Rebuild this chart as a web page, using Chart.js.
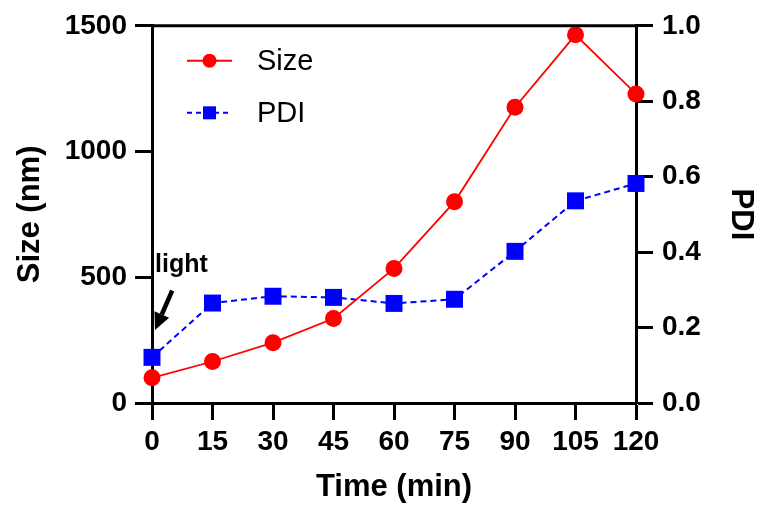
<!DOCTYPE html>
<html>
<head>
<meta charset="utf-8">
<script src="https://cdn.jsdelivr.net/npm/chart.js@4/dist/chart.umd.min.js"></script>
<style>
  html, body { margin: 0; padding: 0; background: #fff; }
  #wrap { width: 760px; height: 513px; }
</style>
</head>
<body>
<div id="wrap"><canvas id="c" width="760" height="513"></canvas></div>
<script>
const timeMin = [0, 15, 30, 45, 60, 75, 90, 105, 120];
const sizeNm = [100, 165, 240, 336, 535, 800, 1176, 1464, 1229];
const pdi = [0.121, 0.265, 0.283, 0.280, 0.264, 0.275, 0.402, 0.536, 0.582];
const xTicks = [0, 15, 30, 45, 60, 75, 90, 105, 120];
const sizeTicks = [0, 500, 1000, 1500];
const pdiTicks = [0.0, 0.2, 0.4, 0.6, 0.8, 1.0];
const seriesNames = ['Size', 'PDI'];
const annotationText = 'light';

const FONT = "'Liberation Sans', Arial, sans-serif";
const RED = '#ff0000';
const BLUE = '#0000ff';

const decorPlugin = {
  id: 'decor',
  afterDraw(chart) {
    const ctx = chart.ctx;
    const ca = chart.chartArea;
    const xs = chart.scales.x, ys = chart.scales.y;
    ctx.save();
    // top frame line
    ctx.strokeStyle = '#000';
    ctx.lineWidth = 3;
    ctx.beginPath();
    ctx.moveTo(ca.left, ca.top);
    ctx.lineTo(ca.right, ca.top);
    ctx.stroke();

    // legend
    const lx0 = ca.left + 35, lx1 = ca.left + 80, tx = ca.left + 105;
    const rows = [
      { y: ca.top + 35, color: RED, dash: [], style: 'circle' },
      { y: ca.top + 87, color: BLUE, dash: [5, 4], style: 'rect' }
    ];
    rows.forEach((r, i) => {
      ctx.strokeStyle = r.color;
      ctx.lineWidth = 2;
      ctx.setLineDash(r.dash);
      ctx.beginPath();
      ctx.moveTo(lx0, r.y);
      ctx.lineTo(lx1, r.y);
      ctx.stroke();
      ctx.setLineDash([]);
      ctx.fillStyle = r.color;
      const cx = (lx0 + lx1) / 2;
      if (r.style === 'circle') {
        ctx.beginPath();
        ctx.arc(cx, r.y, 7, 0, Math.PI * 2);
        ctx.fill();
      } else {
        ctx.fillRect(cx - 6.5, r.y - 6.5, 13, 13);
      }
      ctx.fillStyle = '#000';
      ctx.font = "29px " + FONT;
      ctx.textBaseline = 'middle';
      ctx.textAlign = 'left';
      ctx.fillText(seriesNames[i], tx, r.y + 1);
    });

    // "light" annotation with arrow
    ctx.fillStyle = '#000';
    ctx.font = "bold 25px " + FONT;
    ctx.textBaseline = 'middle';
    ctx.textAlign = 'left';
    ctx.fillText(annotationText, xs.getPixelForValue(0) + 3, ys.getPixelForValue(548));

    const tipX = xs.getPixelForValue(0) + 3, tipY = ys.getPixelForValue(290);
    const tailX = xs.getPixelForValue(5), tailY = ys.getPixelForValue(447);
    const ang = Math.atan2(tipY - tailY, tipX - tailX);
    const headLen = 17, headW = 8;
    const bx = tipX - headLen * Math.cos(ang), by = tipY - headLen * Math.sin(ang);
    ctx.strokeStyle = '#000';
    ctx.lineWidth = 4.5;
    ctx.beginPath();
    ctx.moveTo(tailX, tailY);
    ctx.lineTo(bx, by);
    ctx.stroke();
    ctx.beginPath();
    ctx.moveTo(tipX, tipY);
    ctx.lineTo(bx + headW * Math.sin(ang), by - headW * Math.cos(ang));
    ctx.lineTo(bx - headW * Math.sin(ang), by + headW * Math.cos(ang));
    ctx.closePath();
    ctx.fill();
    ctx.restore();
  }
};

const tickFont = { family: FONT, size: 28, weight: 'bold' };
const titleFont = { family: FONT, size: 31, weight: 'bold' };
const gridCommon = {
  drawOnChartArea: false,
  drawTicks: true,
  tickLength: 17,
  tickWidth: 3,
  tickColor: '#000',
  color: '#000'
};
const borderCommon = { display: true, color: '#000', width: 3 };

new Chart(document.getElementById('c'), {
  type: 'line',
  data: {
    datasets: [
      {
        label: seriesNames[0],
        data: timeMin.map((t, i) => ({ x: t, y: sizeNm[i] })),
        yAxisID: 'y',
        borderColor: RED,
        backgroundColor: RED,
        borderWidth: 1.8,
        pointStyle: 'circle',
        pointRadius: 8.5,
        pointBorderWidth: 0,
        pointBackgroundColor: RED,
        tension: 0,
        clip: false,
        order: 1
      },
      {
        label: seriesNames[1],
        data: timeMin.map((t, i) => ({ x: t, y: pdi[i] })),
        yAxisID: 'y1',
        borderColor: BLUE,
        backgroundColor: BLUE,
        borderWidth: 2,
        borderDash: [6, 4],
        pointStyle: 'rect',
        pointRadius: 12,
        pointBorderWidth: 0,
        pointBackgroundColor: BLUE,
        tension: 0,
        clip: false,
        order: 2
      }
    ]
  },
  options: {
    responsive: false,
    animation: false,
    events: [],
    layout: { padding: { top: 24, left: 0, right: 0, bottom: 0 } },
    plugins: { legend: { display: false }, tooltip: { enabled: false } },
    scales: {
      x: {
        type: 'linear',
        position: 'bottom',
        min: 0, max: 120,
        afterBuildTicks: s => { s.ticks = xTicks.map(v => ({ value: v })); },
        ticks: { font: tickFont, color: '#000', padding: 5, maxRotation: 0, autoSkip: false,
                 callback: v => String(v) },
        grid: gridCommon,
        border: borderCommon,
        title: { display: true, text: 'Time (min)', font: titleFont, color: '#000', padding: { top: 0, bottom: 7 } },
        afterFit: s => { s.height = 110; }
      },
      y: {
        type: 'linear',
        position: 'left',
        min: 0, max: 1500,
        afterBuildTicks: s => { s.ticks = sizeTicks.map(v => ({ value: v })); },
        ticks: { font: tickFont, color: '#000', padding: 8, callback: v => String(v) },
        grid: gridCommon,
        border: borderCommon,
        title: { display: true, text: 'Size (nm)', font: titleFont, color: '#000', padding: { top: 12, bottom: 0 } },
        afterFit: s => { s.width = 152; }
      },
      y1: {
        type: 'linear',
        position: 'right',
        min: 0, max: 1,
        afterBuildTicks: s => { s.ticks = pdiTicks.map(v => ({ value: v })); },
        ticks: { font: tickFont, color: '#000', padding: 9, callback: v => Number(v).toFixed(1) },
        grid: gridCommon,
        border: borderCommon,
        title: { display: true, text: 'PDI', font: titleFont, color: '#000', padding: { top: 1, bottom: 0 } },
        afterFit: s => { s.width = 124; }
      }
    }
  },
  plugins: [decorPlugin]
});
</script>
</body>
</html>
